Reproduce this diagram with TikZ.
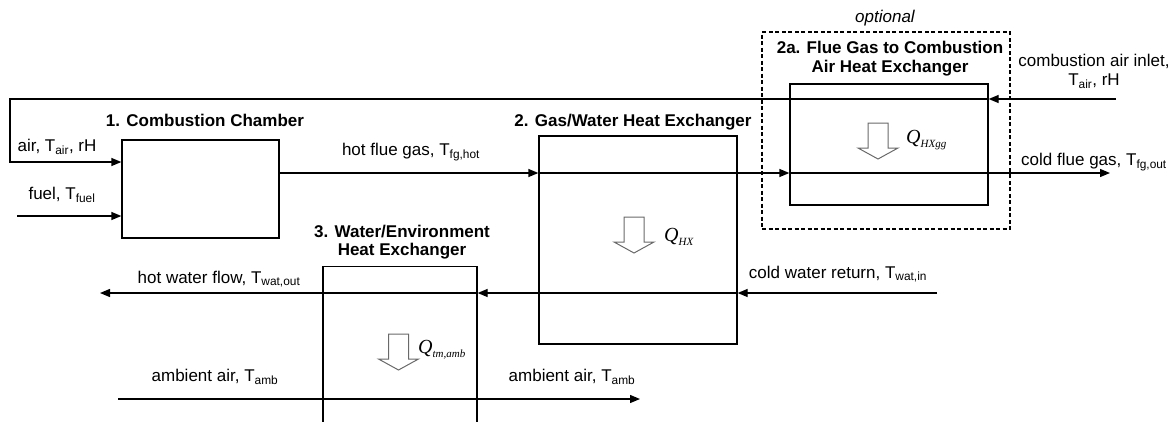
\documentclass[tikz,border=0pt]{standalone}
\usepackage{fontspec}
\setmainfont{Liberation Sans}
\newfontfamily\qfont{Liberation Serif}
\usetikzlibrary{arrows.meta,positioning,calc}
\definecolor{heatgray}{RGB}{105,105,105}
\newcommand{\qsub}[1]{\raisebox{-0.45ex}{\fontsize{11}{12}\selectfont #1}}
\tikzset{
  heatflow/.pic={
    \draw[draw=heatgray, line width=1pt, line join=miter]
      (-10,0) -- (10,0) -- (10,25) -- (20,25) -- (0,36) -- (-20,25) -- (-10,25) -- cycle;
  }
}
\begin{document}
\begin{tikzpicture}[
  x=1pt, y=-1pt,
  font=\fontsize{17}{19}\selectfont,
  unit/.style={draw=black, line width=1.3pt, inner sep=0pt},
  optbox/.style={draw=black, line width=1.1pt, dash pattern=on 4pt off 2.5pt, inner sep=0pt},
  title/.style={font=\fontsize{17}{18.5}\selectfont\bfseries, align=center, inner sep=0pt},
  flowlabel/.style={align=center, inner sep=0pt},
  heatlabel/.style={font=\qfont\itshape\fontsize{20}{22}\selectfont, anchor=west, inner sep=0pt},
  arr/.style={-{Triangle[length=10pt,width=8pt]}, line width=1.3pt}
]
\useasboundingbox (0,0) rectangle (1174,421);
\clip (0,0) rectangle (1174,421);

% units
\node[unit, minimum width=157pt, minimum height=98pt] (cc) at (200.5,189) {};
\node[unit, minimum width=198pt, minimum height=208pt] (hx) at (638,240) {};
\node[unit, minimum width=198pt, minimum height=121pt] (hxa) at (889,144.5) {};
\node[optbox, minimum width=248pt, minimum height=197pt] (opt) at (886,130.5) {};
\node[unit, minimum width=154pt, minimum height=180pt, anchor=north] (env) at (400,266) {};

% titles
\node[title] (cctitle) at (205,120) {1. Combustion Chamber};
\node[title] (hxtitle) at (633,122) {2. Gas/Water Heat Exchanger};
\node[title] (hxatitle) at (890,58.5) {2a. Flue Gas to Combustion\\Air Heat Exchanger};
\node[title] (envtitle) at (402,242) {3. Water/Environment\\Heat Exchanger};
\node[flowlabel, font=\fontsize{17}{19}\selectfont\itshape] (opttitle) at (885,18) {optional};

% stream end points
\coordinate (airin) at (1116,99);
\coordinate (aircorner) at (10,99);
\coordinate (airdown) at (10,162);
\coordinate (fuelin) at (17,216);
\coordinate (fgout) at (1110,173);
\coordinate (watin) at (937,293);
\coordinate (watout) at (100,293);
\coordinate (ambin) at (118,399);
\coordinate (ambout) at (640,399);

% combustion air
\draw[arr] (airin) -- (hxa.east |- airin);
\draw[arr] (hxa.east |- airin) -- (aircorner) -- (airdown) -- (cc.west |- airdown);
\draw[arr] (fuelin) -- (cc.west |- fuelin);

% flue gas
\draw[arr] (cc.east |- fgout) -- (hx.west |- fgout);
\draw[arr] (hx.west |- fgout) -- (hxa.west |- fgout);
\draw[arr] (hxa.west |- fgout) -- (fgout);

% water
\draw[arr] (watin) -- (hx.east |- watin);
\draw[arr] (hx.east |- watin) -- (env.east |- watin);
\draw[arr] (env.east |- watin) -- (watout);

% ambient air
\draw[arr] (ambin) -- (ambout);

% stream labels
\node[flowlabel] (airinlbl) at (1094,71.5) {combustion air inlet,\\T\textsubscript{air}, rH};
\node[flowlabel] (airlbl) at (57,147) {air, T\textsubscript{air}, rH};
\node[flowlabel] (fuellbl) at (62,195) {fuel, T\textsubscript{fuel}};
\node[flowlabel] (fglbl) at (411,152) {hot flue gas, T\textsubscript{fg,hot}};
\node[flowlabel] (fgoutlbl) at (1094,162) {cold flue gas, T\textsubscript{fg,out}};
\node[flowlabel] (watinlbl) at (838,274) {cold water return, T\textsubscript{wat,in}};
\node[flowlabel] (watoutlbl) at (219,279) {hot water flow, T\textsubscript{wat,out}};
\node[flowlabel] (amblbl) at (215,377) {ambient air, T\textsubscript{amb}};
\node[flowlabel] (amboutlbl) at (572,377) {ambient air, T\textsubscript{amb}};

% heat flows
\pic at (634,217) {heatflow};
\pic at (878,123) {heatflow};
\pic at (398.5,334) {heatflow};
\node[heatlabel] (qhx) at (664,237) {Q\qsub{HX}};
\node[heatlabel] (qhxgg) at (906,140) {Q\qsub{HXgg}};
\node[heatlabel] (qenv) at (418,350) {Q\qsub{tm,amb}};
\end{tikzpicture}
\end{document}
